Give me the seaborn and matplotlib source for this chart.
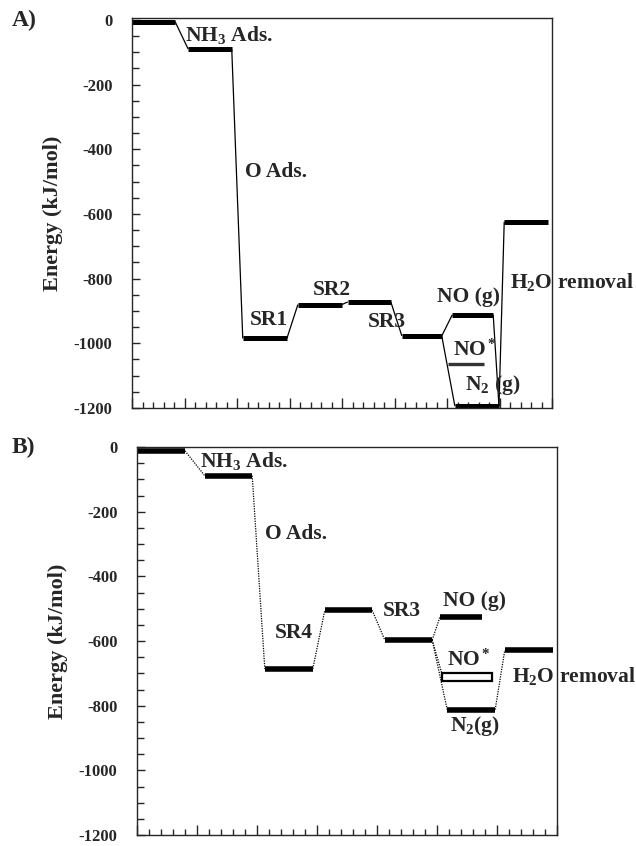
import matplotlib.pyplot as plt
import seaborn as sns
import pandas as pd
from matplotlib.ticker import MultipleLocator
from matplotlib.patches import Rectangle

# Panel A: niveles de energia (inicio, fin en coordenada de reaccion; energia kJ/mol)
a_inicio = [0.00, 1.07, 2.11, 3.16, 4.11, 5.14, 6.10, 6.02, 6.15, 7.09]
a_fin = [0.82, 1.90, 2.95, 4.00, 4.93, 5.90, 6.88, 6.70, 6.99, 7.92]
a_energia = [-5, -90, -985, -880, -872, -977, -912, -1064, -1194, -624]
a_enlaces = [(0, 1), (1, 2), (2, 3), (3, 4), (4, 5), (5, 6), (5, 8), (8, 9)]
a_enlaces_fin = [(6, 8)]
a_etiquetas = ['NH$_3$ Ads.', 'O Ads.', 'SR1', 'SR2', 'SR3', 'NO (g)', 'NO$^*$',
               'N$_2$ (g)', 'H$_2$O removal']
a_etq_x = [1.01, 2.15, 2.25, 3.45, 4.50, 5.81, 6.11, 6.34, 7.20]
a_etq_y = [-46, -470, -928, -835, -934, -857, -1020, -1129, -810]

# Panel B
b_inicio = [0.00, 1.13, 2.13, 3.13, 4.13, 5.05, 5.17, 6.13]
b_fin = [0.80, 1.92, 2.93, 3.92, 4.92, 5.75, 5.97, 6.93]
b_energia = [-12, -89, -686, -505, -597, -525, -812, -628]
b_enlaces = [(0, 1), (1, 2), (2, 3), (3, 4), (4, 5), (4, 6), (6, 7)]
b_caja_x = [5.08, 5.92]          # NO* (rectangulo hueco)
b_caja_e = [-725, -700]
b_etiquetas = ['NH$_3$ Ads.', 'O Ads.', 'SR4', 'SR3', 'NO (g)', 'NO$^*$',
               'H$_2$O removal', 'N$_2$(g)']
b_etq_x = [1.05, 2.13, 2.30, 4.10, 5.10, 5.17, 6.25, 5.22]
b_etq_y = [-43, -268, -575, -508, -477, -658, -708, -862]

yticks = list(range(-1200, 1, 200))

sns.set_style("ticks")
plt.rcParams['font.family'] = ['Liberation Serif', 'DejaVu Serif']
plt.rcParams['font.weight'] = 'bold'
plt.rcParams['axes.unicode_minus'] = False
plt.rcParams['mathtext.fontset'] = 'custom'
plt.rcParams['mathtext.rm'] = 'Liberation Serif:bold'
plt.rcParams['mathtext.it'] = 'Liberation Serif:bold'
plt.rcParams['mathtext.bf'] = 'Liberation Serif:bold'
plt.rcParams['lines.solid_capstyle'] = 'butt'


def niveles_df(x0, x1, e, idx=None):
    filas = []
    idx = range(len(e)) if idx is None else idx
    for i in idx:
        filas.append({'nivel': i, 'x': x0[i], 'E': e[i]})
        filas.append({'nivel': i, 'x': x1[i], 'E': e[i]})
    return pd.DataFrame(filas)


def enlaces_df(x0, x1, e, enlaces, fin_a_fin=()):
    filas = []
    k = 0
    for i, j in enlaces:
        filas.append({'u': k, 'x': x1[i], 'E': e[i]})
        filas.append({'u': k, 'x': x0[j], 'E': e[j]})
        k += 1
    for i, j in fin_a_fin:
        filas.append({'u': k, 'x': x1[i], 'E': e[i]})
        filas.append({'u': k, 'x': x1[j], 'E': e[j]})
        k += 1
    return pd.DataFrame(filas)


def ejes(ax, xmax, ytop):
    ax.set_xlim(0, xmax)
    ax.set_ylim(-1200, ytop)
    ax.set_yticks(yticks, labels=[str(v) for v in yticks], fontweight='bold', fontsize=12)
    ax.yaxis.set_minor_locator(MultipleLocator(50))
    ax.xaxis.set_major_locator(MultipleLocator(1))
    ax.xaxis.set_minor_locator(MultipleLocator(0.2))
    ax.set_xticklabels([])
    ax.tick_params(axis='y', which='major', direction='in', length=6, width=1, pad=14)
    ax.tick_params(axis='y', which='minor', direction='in', length=5, width=1)
    ax.tick_params(axis='x', which='major', direction='in', length=7, width=1)
    ax.tick_params(axis='x', which='minor', direction='in', length=4, width=1)
    for s in ax.spines.values():
        s.set_visible(True)
        s.set_linewidth(1)
    ax.set_xlabel('')
    ax.set_ylabel('Energy (kJ/mol)', fontsize=16, fontweight='bold', labelpad=8)


fig = plt.figure(figsize=(6.36, 8.46), dpi=100)
axA = fig.add_axes([132 / 636, 1 - 408 / 846, 420 / 636, 390 / 846])
axB = fig.add_axes([137 / 636, 1 - 835 / 846, 420 / 636, 388 / 846])

# ---- Panel A ----
sns.lineplot(data=enlaces_df(a_inicio, a_fin, a_energia, a_enlaces, a_enlaces_fin),
             x='x', y='E', units='u', estimator=None, sort=False,
             color='black', linewidth=0.9, ax=axA)
idx_a = [i for i in range(len(a_energia)) if i != 7]
sns.lineplot(data=niveles_df(a_inicio, a_fin, a_energia, idx_a),
             x='x', y='E', units='nivel', estimator=None, sort=False,
             color='black', linewidth=3.6, ax=axA)
sns.lineplot(data=niveles_df(a_inicio, a_fin, a_energia, [7]),
             x='x', y='E', units='nivel', estimator=None, sort=False,
             color='#333333', linewidth=2.4, ax=axA)
for t, x, y in zip(a_etiquetas, a_etq_x, a_etq_y):
    axA.text(x, y, t, fontsize=15.5, fontweight='bold', ha='left', va='center')
ejes(axA, 8, 6)

# ---- Panel B ----
sns.lineplot(data=enlaces_df(b_inicio, b_fin, b_energia, b_enlaces),
             x='x', y='E', units='u', estimator=None, sort=False,
             color='black', linewidth=0.9, linestyle=(0, (1, 1)), ax=axB)
# enlace SR3 -> NO*
sns.lineplot(x=[b_fin[4], b_caja_x[0]], y=[b_energia[4], b_caja_e[1]],
             color='black', linewidth=0.9, linestyle=(0, (1, 1)), ax=axB)
sns.lineplot(data=niveles_df(b_inicio, b_fin, b_energia),
             x='x', y='E', units='nivel', estimator=None, sort=False,
             color='black', linewidth=4.0, ax=axB)
axB.add_patch(Rectangle((b_caja_x[0], b_caja_e[0]), b_caja_x[1] - b_caja_x[0],
                        b_caja_e[1] - b_caja_e[0], fill=False, lw=1.6, ec='black'))
for t, x, y in zip(b_etiquetas, b_etq_x, b_etq_y):
    axB.text(x, y, t, fontsize=15.5, fontweight='bold', ha='left', va='center')
ejes(axB, 7, 0)

fig.text(12 / 636, 1 - 20 / 846, 'A)', fontsize=17, fontweight='bold', va='center')
fig.text(12 / 636, 1 - 447 / 846, 'B)', fontsize=17, fontweight='bold', va='center')

fig.savefig('out.png', dpi=100)
plt.close()
